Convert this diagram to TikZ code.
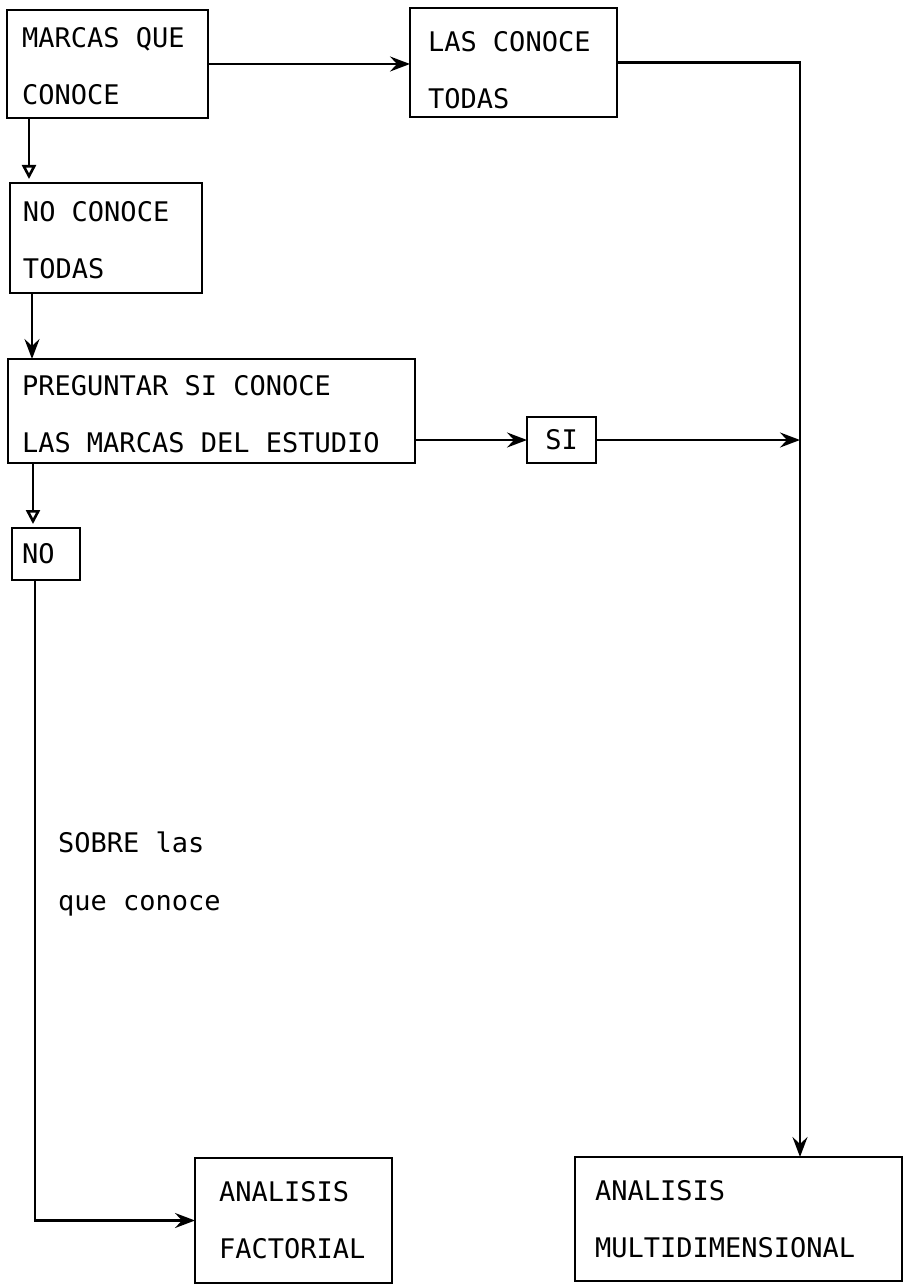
\documentclass[tikz,border=0pt]{standalone}
\usepackage{fontspec}
\newfontfamily\monofnt{DejaVu Sans Mono}[WordSpace={1,0,0}]
\usetikzlibrary{arrows.meta}
\newcommand\gp{\hspace*{16.25pt}}
\begin{document}
\begin{tikzpicture}[x=1pt,y=-1pt,
  box/.style={draw, line width=2.6pt, align=left, inner ysep=0pt, outer sep=0pt,
    font=\monofnt\fontsize{27}{57}\selectfont},
  txt/.style={align=left, inner sep=0pt, font=\monofnt\fontsize{27}{58}\selectfont},
  arr/.style={line width=2.6pt, -{Stealth[length=20pt,width=15pt,inset=7pt]}},
  arro/.style={line width=2.6pt, -{Triangle[open,length=14pt,width=14pt]}}]
\useasboundingbox (0,0) rectangle (904,1284);
\node[box, text width=171pt, inner xsep=15pt, minimum height=108pt] (b1) at (107.5,64) {\rule{0pt}{25pt}MARCAS\gp QUE\\CONOCE};
\node[box, text width=171pt, inner xsep=18pt, minimum height=109pt] (b2) at (513.5,62.5) {\rule{0pt}{36pt}LAS\gp CONOCE\\TODAS};
\node[box, text width=166pt, inner xsep=13pt, minimum height=110pt] (b3) at (106,238) {\rule{0pt}{25pt}NO\gp CONOCE\\TODAS};
\node[box, text width=379pt, inner xsep=14pt, minimum height=104pt] (b4) at (211.5,411) {\rule{0pt}{26pt}PREGUNTAR\gp SI\gp CONOCE\\LAS\gp MARCAS\gp DEL\gp ESTUDIO};
\node[box, text width=69pt, inner xsep=0pt, align=center, minimum height=46pt] (si) at (561.5,440) {SI};
\node[box, text width=48pt, inner xsep=10pt, minimum height=52pt] (no) at (46,554) {NO};
\node[box, text width=149pt, inner xsep=24pt, minimum height=125pt] (fa) at (293.5,1220.5) {ANALISIS\\FACTORIAL};
\node[box, text width=287pt, inner xsep=20pt, minimum height=124pt] (md) at (738.5,1219) {ANALISIS\\MULTIDIMENSIONAL};
\node[txt, anchor=west] (sobre) at (58,874) {SOBRE\gp las\\que\gp conoce};
\coordinate (c1) at (800,62.5);
\draw[arr] (b1.east) -- (b1.east -| b2.west);
\draw[arro] ([xshift=22pt]b1.south west) -- ([xshift=22pt,yshift=4pt]b1.south west |- b3.north);
\draw[arr] ([xshift=22pt]b3.south west) -- ([xshift=22pt]b3.south west |- b4.north);
\draw[arr] (si.west -| b4.east) -- (si.west);
\draw[arr] (si.east) -- (si.east -| c1);
\draw[arr] (b2.east) -- (c1) -- (c1 |- md.north);
\draw[arro] ([xshift=25pt]b4.south west) -- ([xshift=25pt,yshift=4pt]b4.south west |- no.north);
\draw[arr] ([xshift=23pt]no.south west) |- (fa.west);
\end{tikzpicture}
\end{document}
